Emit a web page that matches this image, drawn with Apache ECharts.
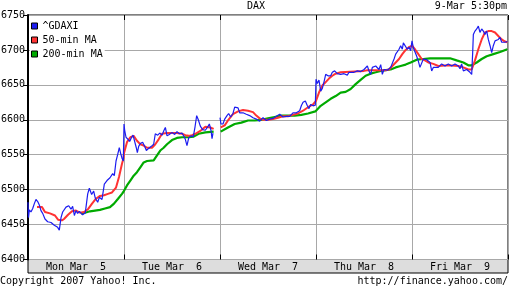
<!DOCTYPE html>
<html><head><meta charset="utf-8">
<script src="https://cdn.jsdelivr.net/npm/echarts@6/dist/echarts.min.js"></script>
<style>html,body{margin:0;padding:0;background:#fff}#c{width:512px;height:288px}</style>
</head><body><div id="c"></div>
<script>
// Time unit: trading day index (0 = Mon) + fraction of the trading session
const dayLabels = ['Mon Mar  5', 'Tue Mar  6', 'Wed Mar  7', 'Thu Mar  8', 'Fri Mar  9'];
const yMin = 6400, yMax = 6750, yStep = 50;
const seriesNames = ['^GDAXI', '50-min MA', '200-min MA'];
const titleText = 'DAX';
const dateText = '9-Mar 5:30pm';
const copyrightText = 'Copyright 2007 Yahoo! Inc.';
const urlText = 'http://finance.yahoo.com/';

const gdaxi = [
  [0.000,6482],[0.005,6460],[0.014,6471],[0.031,6468],[0.049,6473],[0.066,6480],[0.083,6486],[0.101,6483],[0.118,6478],[0.135,6470],
  [0.153,6466],[0.177,6458],[0.205,6454],[0.240,6453],[0.274,6449],[0.309,6446],[0.326,6442],[0.344,6460],[0.361,6468],[0.378,6466],
  [0.396,6475],[0.424,6477],[0.448,6472],[0.465,6476],[0.483,6463],[0.500,6470],[0.517,6466],[0.535,6469],[0.569,6464],[0.597,6467],
  [0.622,6494],[0.639,6502],[0.663,6493],[0.684,6498],[0.701,6488],[0.726,6482],[0.743,6489],[0.771,6486],[0.795,6508],[0.823,6513],
  [0.854,6517],[0.882,6523],[0.899,6520],[0.917,6541],[0.934,6550],[0.951,6560],[0.965,6552],[0.979,6545],[0.993,6541],
  [1.000,6594],[1.007,6585],[1.021,6575],[1.042,6572],[1.059,6569],[1.076,6574],[1.094,6578],[1.111,6576],[1.128,6560],[1.139,6553],
  [1.153,6562],[1.170,6566],[1.194,6568],[1.215,6562],[1.233,6556],[1.257,6559],[1.285,6562],[1.309,6565],[1.326,6580],[1.351,6578],
  [1.372,6581],[1.396,6578],[1.417,6585],[1.431,6589],[1.448,6577],[1.472,6579],[1.500,6582],[1.528,6579],[1.552,6583],[1.576,6580],
  [1.604,6581],[1.625,6576],[1.639,6572],[1.656,6563],[1.674,6574],[1.698,6577],[1.722,6576],[1.740,6590],[1.757,6606],[1.774,6600],
  [1.795,6591],[1.819,6586],[1.847,6585],[1.868,6589],[1.889,6594],[1.906,6585],[1.917,6573],[1.927,6581],[1.960,null],
  [2.000,6603],[2.010,6594],[2.031,6594],[2.049,6601],[2.073,6606],[2.090,6609],[2.111,6604],[2.135,6609],[2.153,6618],[2.170,6620],
  [2.188,6617],[2.205,6610],[2.240,6610],[2.274,6608],[2.309,6606],[2.344,6603],[2.378,6601],[2.413,6598],[2.448,6603],[2.483,6599],
  [2.517,6601],[2.552,6602],[2.587,6605],[2.622,6608],[2.656,6604],[2.691,6605],[2.726,6605],[2.760,6610],[2.795,6610],[2.830,6613],
  [2.847,6620],[2.865,6625],[2.889,6627],[2.910,6620],[2.927,6616],[2.944,6622],[2.969,6620],[2.993,6621],
  [3.000,6658],[3.014,6652],[3.031,6657],[3.049,6641],[3.066,6645],[3.083,6654],[3.101,6665],[3.125,6663],[3.153,6663],[3.170,6668],
  [3.194,6670],[3.222,6666],[3.257,6665],[3.292,6666],[3.326,6664],[3.344,6668],[3.361,6670],[3.396,6668],[3.431,6670],[3.465,6669],
  [3.500,6672],[3.535,6677],[3.552,6670],[3.569,6665],[3.587,6675],[3.622,6677],[3.656,6672],[3.674,6679],[3.691,6665],[3.708,6672],
  [3.743,6671],[3.778,6675],[3.813,6687],[3.830,6694],[3.847,6692],[3.865,6701],[3.882,6706],[3.899,6701],[3.910,6710],[3.924,6708],
  [3.951,6701],[3.969,6704],[3.986,6699],
  [4.000,6713],[4.014,6703],[4.031,6701],[4.049,6691],[4.066,6684],[4.083,6675],[4.101,6677],[4.118,6687],[4.153,6686],[4.188,6682],
  [4.205,6670],[4.222,6675],[4.240,6677],[4.274,6675],[4.309,6680],[4.344,6677],[4.378,6680],[4.413,6677],[4.448,6680],[4.483,6677],
  [4.500,6673],[4.517,6680],[4.535,6670],[4.569,6672],[4.587,6670],[4.604,6668],[4.622,6665],[4.632,6696],[4.639,6722],[4.656,6727],
  [4.674,6730],[4.691,6734],[4.708,6725],[4.726,6730],[4.743,6727],[4.760,6722],[4.778,6727],[4.795,6715],[4.813,6706],[4.830,6696],
  [4.847,6706],[4.865,6713],[4.882,6711],[4.899,6715],[4.917,6718],[4.934,6711],[4.951,6713],[4.969,6711],[4.993,6712]
];

const ma50 = [
  [0.094,6475],[0.146,6475],[0.177,6468],[0.229,6466],[0.281,6463],[0.313,6457],[0.354,6456],[0.375,6458],[0.417,6464],[0.458,6469],
  [0.500,6470],[0.542,6467],[0.583,6468],[0.625,6472],[0.667,6480],[0.708,6487],[0.750,6491],[0.792,6492],[0.833,6494],[0.875,6496],
  [0.917,6503],[0.948,6518],[0.979,6537],[0.995,6545],
  [1.000,6552],[1.031,6568],[1.066,6575],[1.101,6577],[1.135,6570],[1.170,6565],[1.205,6563],[1.240,6560],[1.292,6560],[1.326,6565],
  [1.361,6572],[1.396,6580],[1.448,6581],[1.500,6581],[1.552,6581],[1.604,6580],[1.639,6578],[1.674,6577],[1.708,6578],[1.743,6580],
  [1.795,6584],[1.847,6590],[1.899,6589],[1.934,6587],[1.960,null],
  [2.007,6589],[2.049,6592],[2.083,6599],[2.135,6608],[2.188,6612],[2.240,6614],[2.292,6613],[2.344,6611],[2.378,6606],[2.413,6602],
  [2.448,6600],[2.500,6600],[2.552,6601],[2.604,6603],[2.656,6605],[2.708,6605],[2.760,6607],[2.813,6609],[2.865,6613],[2.917,6618],
  [2.969,6622],[3.000,6627],
  [3.031,6639],[3.066,6649],[3.101,6654],[3.135,6659],[3.170,6663],[3.205,6666],[3.257,6668],[3.500,6670],[3.535,6671],[3.726,6671],
  [3.760,6672],[3.795,6677],[3.830,6682],[3.865,6687],[3.899,6694],[3.934,6700],[3.969,6704],[4.000,6706],
  [4.031,6701],[4.066,6694],[4.101,6687],[4.135,6685],[4.170,6682],[4.222,6680],[4.274,6677],[4.378,6678],[4.483,6677],[4.535,6675],
  [4.587,6672],[4.622,6672],[4.656,6685],[4.691,6701],[4.726,6715],[4.760,6725],[4.795,6727],[4.830,6727],[4.865,6725],[4.899,6720],
  [4.934,6715],[4.969,6712],[4.993,6711]
];

const ma200 = [
  [0.552,6466],[0.594,6467],[0.646,6469],[0.698,6470],[0.750,6471],[0.802,6473],[0.854,6475],[0.896,6480],[0.938,6487],[0.979,6494],
  [0.995,6497],
  [1.031,6506],[1.066,6513],[1.101,6520],[1.135,6525],[1.170,6532],[1.205,6539],[1.240,6541],[1.309,6542],[1.344,6549],[1.378,6556],
  [1.413,6560],[1.448,6565],[1.500,6571],[1.552,6574],[1.604,6575],[1.674,6575],[1.726,6576],[1.778,6580],[1.847,6582],[1.934,6583],
  [1.960,null],
  [2.007,6583],[2.083,6589],[2.153,6594],[2.222,6596],[2.292,6599],[2.361,6599],[2.431,6600],[2.500,6602],[2.569,6604],[2.639,6606],
  [2.778,6606],[2.847,6607],[2.917,6609],[2.993,6612],
  [3.000,6613],[3.049,6620],[3.101,6625],[3.153,6630],[3.205,6634],[3.257,6639],[3.309,6640],[3.361,6644],[3.413,6651],[3.465,6657],
  [3.517,6663],[3.569,6666],[3.622,6668],[3.674,6670],[3.726,6671],[3.778,6672],[3.830,6675],[3.882,6677],[3.934,6679],[3.986,6682],
  [4.000,6683],[4.049,6686],[4.118,6687],[4.188,6688],[4.396,6688],[4.465,6685],[4.535,6682],[4.587,6678],[4.622,6678],[4.674,6682],
  [4.726,6687],[4.778,6691],[4.847,6694],[4.917,6697],[4.993,6701]
];

const FONT = 'DejaVu Sans Mono';
const colors = ['#1c1cf0', '#ff3333', '#00aa00'];
const chart = echarts.init(document.getElementById('c'), null, {renderer: 'canvas'});
const txt = {fontFamily: FONT, fontSize: 10, color: '#000', fontWeight: 'normal'};

chart.setOption({
  animation: false,
  backgroundColor: '#fff',
  textStyle: {fontFamily: FONT},
  title: [
    {text: titleText, left: 'center', top: 1, padding: 0, textStyle: txt},
    {text: dateText, right: 5, top: 1, padding: 0, textStyle: txt},
    {text: copyrightText, left: 0, top: 276, padding: 0, textStyle: txt},
    {text: urlText, right: 4, top: 276, padding: 0, textStyle: txt}
  ],
  legend: {
    orient: 'vertical', left: 30, top: 20, padding: [0, 2, 1, 1],
    backgroundColor: '#fff', icon: 'rect', itemWidth: 6, itemHeight: 6,
    itemGap: 2, itemTextGap: 4,
    itemStyle: {borderColor: '#000', borderWidth: 1},
    textStyle: Object.assign({lineHeight: 12}, txt),
    data: seriesNames
  },
  graphic: [
    {type: 'rect', z: 0, shape: {x: 28, y: 259.5, width: 480, height: 13.5},
     style: {fill: '#dddddd', stroke: '#000', lineWidth: 1}}
  ],
  grid: {left: 28, right: 4, top: 15, bottom: 28.5, show: true, borderColor: '#000', borderWidth: 1,
         containLabel: false, outerBoundsMode: 'none'},
  xAxis: [
    {type: 'value', min: 0, max: dayLabels.length, interval: 1, position: 'bottom',
     axisLine: {show: false}, axisTick: {show: true, inside: true, length: 5, lineStyle: {color: '#000'}},
     axisLabel: {show: false}, splitLine: {show: true, lineStyle: {color: '#a8a8a8', width: 1}}},
    {type: 'value', min: 0, max: dayLabels.length, interval: 1, position: 'top',
     axisLine: {show: false}, axisTick: {show: true, inside: true, length: 5, lineStyle: {color: '#000'}},
     axisLabel: {show: false}, splitLine: {show: false}},
    {type: 'category', data: dayLabels, position: 'bottom', boundaryGap: true, z: 20,
     axisLine: {show: false}, axisTick: {show: false}, splitLine: {show: false},
     axisLabel: Object.assign({margin: 3}, txt)}
  ],
  yAxis: [
    {type: 'value', min: yMin, max: yMax, interval: yStep, position: 'left',
     axisLine: {show: true, lineStyle: {color: '#000', width: 2}}, axisTick: {show: false},
     axisLabel: Object.assign({margin: 3, formatter: v => String(v)}, txt),
     splitLine: {show: true, lineStyle: {color: '#a8a8a8', width: 1}}},
    {type: 'value', min: yMin, max: yMax, interval: yStep, position: 'right',
     axisLine: {show: false}, axisTick: {show: true, inside: true, length: 5, lineStyle: {color: '#000'}},
     axisLabel: {show: false}, splitLine: {show: false}}
  ],
  series: [
    {name: seriesNames[0], type: 'line', xAxisIndex: 0, yAxisIndex: 0, data: gdaxi, symbol: 'none', z: 5,
     lineStyle: {color: colors[0], width: 1.2}, itemStyle: {color: colors[0]}},
    {name: seriesNames[1], type: 'line', xAxisIndex: 0, yAxisIndex: 0, data: ma50, symbol: 'none', z: 4,
     lineStyle: {color: colors[1], width: 2}, itemStyle: {color: colors[1]}},
    {name: seriesNames[2], type: 'line', xAxisIndex: 0, yAxisIndex: 0, data: ma200, symbol: 'none', z: 3,
     lineStyle: {color: colors[2], width: 2.2}, itemStyle: {color: colors[2]}}
  ]
});
</script></body></html>
